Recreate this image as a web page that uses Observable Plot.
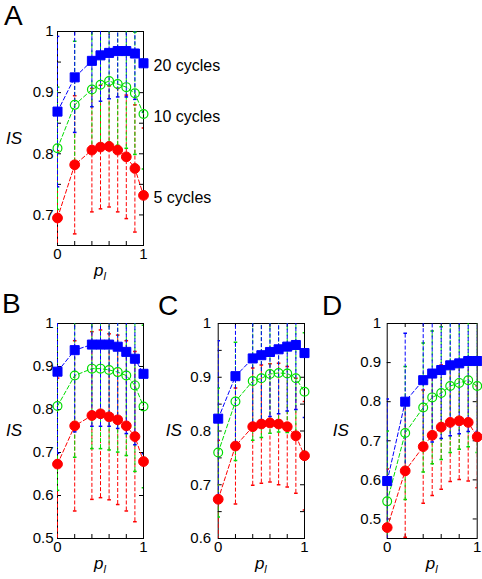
<!DOCTYPE html>
<html><head><meta charset="utf-8">
<script src="https://cdn.jsdelivr.net/npm/d3@7"></script>
<script src="https://cdn.jsdelivr.net/npm/@observablehq/plot@0.6"></script>
<style>
body{margin:0;background:#fff}
#c{position:relative;width:482px;height:579px;overflow:hidden;background:#fff;font-family:"Liberation Sans",Arial,Helvetica,sans-serif}
#c svg{position:absolute;overflow:visible}
</style></head>
<body><div id="c"></div>
<script>
// ---- data ----
const xs = [0, 0.2, 0.4, 0.5, 0.6, 0.7, 0.8, 0.9, 1];
const seriesNames = ["20 cycles", "10 cycles", "5 cycles"];
const panelLetters = ["A", "B", "C", "D"];
const xLabelTicks = [0, 1];
const xMinorTicks = [0.2, 0.4, 0.6, 0.8];

// Panel A
const aBlue  = [0.869, 0.925, 0.952, 0.961, 0.965, 0.968, 0.968, 0.964, 0.948];
const aGreen = [0.809, 0.880, 0.905, 0.913, 0.919, 0.914, 0.909, 0.899, 0.865];
const aRed   = [0.695, 0.782, 0.806, 0.811, 0.812, 0.806, 0.795, 0.776, 0.732];
const aBlueErr  = [0.123, 0.090, 0.075, 0.075, 0.075, 0.075, 0.075, 0.075, 0.080];
const aGreenErr = [0.100, 0.104, 0.100, 0.100, 0.100, 0.100, 0.100, 0.100, 0.090];
const aRedErr   = [0.110, 0.113, 0.101, 0.101, 0.099, 0.101, 0.101, 0.104, 0.110];
const aYDomain = [0.65, 1];
const aYLabels = [0.7, 0.8, 0.9, 1];
const aYTicks  = [0.7, 0.75, 0.8, 0.85, 0.9, 0.95];

// Panel B
const bBlue  = [0.888, 0.938, 0.951, 0.951, 0.951, 0.946, 0.934, 0.918, 0.883];
const bGreen = [0.808, 0.879, 0.895, 0.895, 0.892, 0.887, 0.879, 0.856, 0.807];
const bRed   = [0.673, 0.762, 0.786, 0.790, 0.783, 0.776, 0.762, 0.737, 0.679];
const bBlueErr  = [0.190, 0.190, 0.190, 0.190, 0.190, 0.190, 0.190, 0.200, 0.186];
const bGreenErr = [0.196, 0.190, 0.186, 0.186, 0.186, 0.186, 0.186, 0.200, 0.189];
const bRedErr   = [0.200, 0.198, 0.195, 0.195, 0.193, 0.197, 0.198, 0.198, 0.200];
const bYDomain = [0.5, 1];
const bYLabels = [0.5, 0.6, 0.7, 0.8, 0.9, 1];
const bYTicks  = [0.6, 0.7, 0.8, 0.9];

// Panel C
const cBlue  = [0.823, 0.902, 0.935, 0.941, 0.947, 0.952, 0.957, 0.960, 0.945];
const cGreen = [0.760, 0.855, 0.893, 0.898, 0.906, 0.908, 0.907, 0.898, 0.873];
const cRed   = [0.673, 0.772, 0.808, 0.813, 0.815, 0.813, 0.808, 0.791, 0.754];
const cBlueErr  = [0.145, 0.125, 0.120, 0.120, 0.120, 0.120, 0.120, 0.120, 0.120];
const cGreenErr = [0.120, 0.110, 0.110, 0.110, 0.110, 0.110, 0.110, 0.110, 0.110];
const cRedErr   = [0.110, 0.108, 0.109, 0.110, 0.110, 0.113, 0.112, 0.107, 0.101];
const cYDomain = [0.6, 1];
const cYLabels = [0.6, 0.7, 0.8, 0.9, 1];
const cYTicks  = [0.65, 0.7, 0.75, 0.8, 0.85, 0.9, 0.95];

// Panel D
const dBlue  = [0.597, 0.800, 0.855, 0.872, 0.881, 0.893, 0.898, 0.904, 0.904];
const dGreen = [0.545, 0.720, 0.785, 0.811, 0.822, 0.840, 0.848, 0.855, 0.840];
const dRed   = [0.478, 0.623, 0.685, 0.714, 0.735, 0.747, 0.751, 0.747, 0.710];
const dBlueErr  = [0.210, 0.175, 0.170, 0.175, 0.175, 0.180, 0.180, 0.180, 0.180];
const dGreenErr = [0.180, 0.170, 0.165, 0.170, 0.170, 0.170, 0.170, 0.170, 0.170];
const dRedErr   = [0.150, 0.170, 0.145, 0.154, 0.159, 0.151, 0.150, 0.150, 0.130];
const dYDomain = [0.45, 1];
const dYLabels = [0.5, 0.6, 0.7, 0.8, 0.9, 1];
const dYTicks  = [0.5, 0.6, 0.7, 0.8, 0.9];

// ---- styles / layout ----
const styles = [
  {color: "#0000ff", symbol: "square", r: 5.1, fill: "#0000ff", sw: 1},
  {color: "#00dd00", symbol: "circle", r: 4.4, fill: "none", sw: 1.2},
  {color: "#ff0000", symbol: "circle", r: 4.9, fill: "#ff0000", sw: 1}
];
const layout = [
  {left: 0,   top: 0,   width: 240, height: 290, ml: 57,   mr: 97,  mt: 31, mb: 45, isDx: 43, tp: 4, lx: 4,   ly: 25,  labels: true},
  {left: 0,   top: 290, width: 160, height: 289, ml: 57,   mr: 17,  mt: 33, mb: 41, isDx: 43, tp: 4, lx: 2,   ly: 313},
  {left: 160, top: 290, width: 160, height: 289, ml: 57.7, mr: 16,  mt: 33, mb: 41, isDx: 44, tp: 7, lx: 158, ly: 315},
  {left: 320, top: 290, width: 162, height: 289, ml: 66.7, mr: 5.3, mt: 33, mb: 41, isDx: 46, tp: 6, lx: 322, ly: 315}
];
const panelData = [
  {vals: [aBlue, aGreen, aRed], errs: [aBlueErr, aGreenErr, aRedErr], yDomain: aYDomain, yLabels: aYLabels, yTicks: aYTicks},
  {vals: [bBlue, bGreen, bRed], errs: [bBlueErr, bGreenErr, bRedErr], yDomain: bYDomain, yLabels: bYLabels, yTicks: bYTicks},
  {vals: [cBlue, cGreen, cRed], errs: [cBlueErr, cGreenErr, cRedErr], yDomain: cYDomain, yLabels: cYLabels, yTicks: cYTicks},
  {vals: [dBlue, dGreen, dRed], errs: [dBlueErr, dGreenErr, dRedErr], yDomain: dYDomain, yLabels: dYLabels, yTicks: dYTicks}
];

const capSymbol = {draw(ctx, size) { const r = Math.sqrt(size / Math.PI); ctx.moveTo(-r, 0); ctx.lineTo(r, 0); }};
const font = '"Liberation Sans", Arial, Helvetica, sans-serif';
const container = document.getElementById("c");

panelData.forEach((pd, p) => {
  const L = layout[p];
  const fw = L.width - L.ml - L.mr, fh = L.height - L.mt - L.mb;
  const series = pd.vals.map((v, k) => ({
    name: seriesNames[k], ...styles[k],
    rows: xs.map((x, i) => ({x, y: v[i], lo: v[i] - pd.errs[k][i], hi: v[i] + pd.errs[k][i], name: seriesNames[k]}))
  }));
  const order = [2, 1, 0];
  const marks = [
    Plot.tickY(pd.yTicks, {y: d => d, insetRight: fw - 4, stroke: "#000"}),
    Plot.tickY(pd.yTicks, {y: d => d, insetLeft: fw - 4, stroke: "#000"}),
    Plot.tickX(xMinorTicks, {x: d => d, insetTop: fh - 4, stroke: "#000"}),
    Plot.tickX(xMinorTicks, {x: d => d, insetBottom: fh - 4, stroke: "#000"}),
    Plot.frame({stroke: "#000", strokeWidth: 1})
  ];
  for (const k of order) {
    const s = series[k];
    marks.push(Plot.ruleX(s.rows, {x: "x", y1: "lo", y2: "hi", stroke: s.color, strokeWidth: 1, strokeDasharray: "4,2", clip: true}));
    marks.push(Plot.dot(s.rows, {x: "x", y: "lo", symbol: capSymbol, r: 1.8, stroke: s.color, fill: "none", clip: true}));
    marks.push(Plot.dot(s.rows, {x: "x", y: "hi", symbol: capSymbol, r: 1.8, stroke: s.color, fill: "none", clip: true}));
  }
  for (const k of order) {
    const s = series[k];
    marks.push(Plot.line(s.rows, {x: "x", y: "y", stroke: s.color, strokeWidth: 1, strokeDasharray: "4,2.5"}));
  }
  for (const k of order) {
    const s = series[k];
    marks.push(Plot.dot(s.rows, {x: "x", y: "y", symbol: s.symbol, r: s.r, fill: s.fill, stroke: s.color, strokeWidth: s.sw}));
  }
  if (L.labels) {
    const last = series.map(s => s.rows[s.rows.length - 1]);
    marks.push(Plot.text(last, {x: "x", y: "y", text: "name", dx: 10, dy: 3, textAnchor: "start", fontSize: 16, fill: "#000"}));
  }
  const svg = Plot.plot({
    width: L.width, height: L.height,
    marginLeft: L.ml, marginRight: L.mr, marginTop: L.mt, marginBottom: L.mb,
    style: {fontFamily: font, fontSize: "15px", background: "transparent", overflow: "visible", color: "#000"},
    x: {domain: [0, 1], ticks: xLabelTicks, tickSize: 0, tickPadding: 3, tickFormat: d => String(d), label: null},
    y: {domain: pd.yDomain, ticks: pd.yLabels, tickSize: 0, tickPadding: L.tp, tickFormat: d => d === 1 ? "1" : d3.format(".1f")(d), label: null},
    marks
  });
  svg.style.left = L.left + "px";
  svg.style.top = L.top + "px";
  const g = d3.select(svg);
  g.append("text").attr("x", L.ml - L.isDx).attr("y", L.mt + fh / 2).attr("dy", "0.35em")
    .attr("text-anchor", "middle").attr("font-style", "italic").attr("font-size", 17).attr("fill", "#000")
    .attr("font-family", font).text("IS");
  const pl = g.append("text").attr("x", L.ml + fw / 2).attr("y", L.height - L.mb + 31)
    .attr("text-anchor", "middle").attr("font-style", "italic").attr("font-size", 17).attr("fill", "#000")
    .attr("font-family", font);
  pl.append("tspan").text("p");
  pl.append("tspan").attr("font-size", 11).attr("dy", 4).text("l");
  container.appendChild(svg);
});

// panel letters
const over = d3.select(container).append("svg").attr("width", 482).attr("height", 579)
  .style("left", "0px").style("top", "0px").style("pointer-events", "none");
layout.forEach((L, p) => {
  over.append("text").attr("x", L.lx).attr("y", L.ly).attr("font-size", 28).attr("font-family", font)
    .attr("fill", "#000").text(panelLetters[p]);
});
</script>
</body></html>
